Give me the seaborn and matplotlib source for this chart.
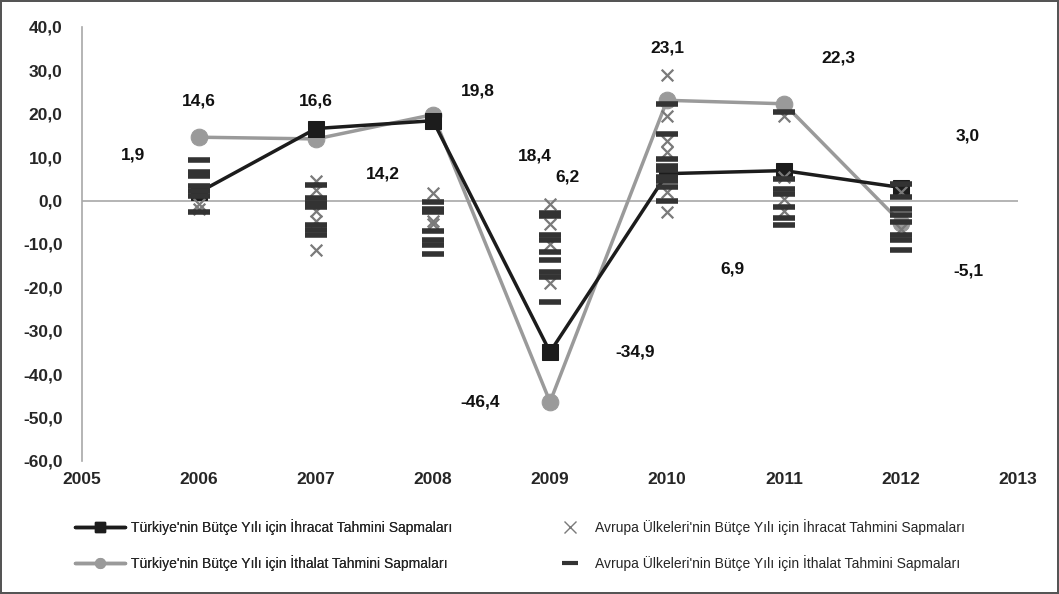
import pandas as pd
import matplotlib
matplotlib.use('Agg')
import matplotlib.pyplot as plt
import seaborn as sns
from matplotlib.lines import Line2D

years = [2006, 2007, 2008, 2009, 2010, 2011, 2012]
tr_export = [1.9, 16.6, 18.4, -34.9, 6.2, 6.9, 3.0]
tr_import = [14.6, 14.2, 19.8, -46.4, 23.1, 22.3, -5.1]

# European countries
eu_export_years = [2006, 2006, 2007, 2007, 2007, 2007, 2007, 2008, 2008, 2008,
                   2009, 2009, 2009, 2009, 2010, 2010, 2010, 2010, 2010, 2010,
                   2011, 2011, 2011, 2011, 2012, 2012]
eu_export = [-0.8, -2.0, 4.6, 2.5, -2.5, -4.6, -11.3, 1.7, -4.6, -5.5,
             -0.9, -5.4, -9.9, -19.1, 29.0, 19.5, 13.8, 11.1, 1.9, -2.7,
             19.5, 5.5, 0.4, -2.3, 1.9, -6.5]

eu_import_years = [2006] * 7 + [2007] * 7 + [2008] * 7 + [2009] * 9 + [2010] * 9 + [2011] * 7 + [2012] * 8
eu_import = [9.4, 6.5, 5.7, 3.4, 2.3, 1.1, -2.7,
             3.6, 0.5, -0.5, -1.5, -5.7, -6.7, -8.0,
             -0.4, -1.9, -2.7, -6.9, -9.2, -10.3, -12.2,
             -2.8, -3.6, -8.0, -9.2, -11.9, -13.8, -16.5, -17.6, -23.4,
             22.2, 15.3, 9.6, 8.0, 7.0, 5.5, 4.5, 3.1, 0.0,
             20.3, 5.0, 2.7, 1.5, -1.5, -4.1, -5.7,
             3.8, 0.8, -1.9, -3.4, -5.0, -8.0, -9.2, -11.3]

labels = ["Türkiye'nin Bütçe Yılı için İhracat Tahmini Sapmaları",
          "Türkiye'nin Bütçe Yılı için İthalat Tahmini Sapmaları",
          "Avrupa Ülkeleri'nin Bütçe Yılı için İhracat Tahmini Sapmaları",
          "Avrupa Ülkeleri'nin Bütçe Yılı için İthalat Tahmini Sapmaları"]

# label offsets in pixels (dx, dy) from each point
exp_offsets = [(-66, 37), (0, 28), (102, -35), (85, 0), (-100, -3), (-52, -98), (67, 52)]
imp_offsets = [(0, 36), (67, -35), (45, 24), (-70, 0), (0, 52), (54, 46), (67, -48)]

sns.set_style('white')
plt.rcParams['font.family'] = ['Liberation Sans', 'DejaVu Sans']

BLACK = '#1c1c1c'
GRAY = '#9a9a9a'
DASH = '#333333'
XGRAY = '#7a7a7a'

fig = plt.figure(figsize=(10.59, 5.94), dpi=100, edgecolor='#555555', linewidth=1.5)
ax = fig.add_axes([0.0774, 0.224, 0.884, 0.7306])

df = pd.DataFrame({'year': years, 'exp': tr_export, 'imp': tr_import})
sns.lineplot(data=df, x='year', y='exp', ax=ax, color=BLACK, lw=2.5,
             marker='s', markersize=11, markeredgecolor=BLACK, zorder=3)
sns.lineplot(data=df, x='year', y='imp', ax=ax, color=GRAY, lw=2.5,
             marker='o', markersize=12, markeredgecolor=GRAY, zorder=2)

sns.scatterplot(x=eu_export_years, y=eu_export, ax=ax, marker='x', s=70,
                color=XGRAY, linewidth=1.6, zorder=4)
sns.scatterplot(x=eu_import_years, y=eu_import, ax=ax, marker='_', s=230,
                color=DASH, linewidth=4, zorder=5)

for yr, v, (dx, dy) in zip(years, tr_export, exp_offsets):
    ax.annotate(f"{v:.1f}".replace('.', ','), (yr, v), xytext=(dx, dy),
                textcoords='offset pixels', ha='center', va='center',
                fontsize=12.5, fontweight='bold', color='#111111')
for yr, v, (dx, dy) in zip(years, tr_import, imp_offsets):
    ax.annotate(f"{v:.1f}".replace('.', ','), (yr, v), xytext=(dx, dy),
                textcoords='offset pixels', ha='center', va='center',
                fontsize=12.5, fontweight='bold', color='#111111')

ax.axhline(0, color='#a8a8a8', lw=1.2, zorder=1)
ax.set_xlim(2005, 2013)
ax.set_ylim(-60, 40)
ax.set_xticks(range(2005, 2014))
ax.set_xticklabels([str(y) for y in range(2005, 2014)], fontsize=12.5, fontweight='bold')
yt = list(range(-60, 41, 10))
ax.set_yticks(yt)
ax.set_yticklabels([f"{t:.1f}".replace('.', ',') for t in yt], fontsize=12.5, fontweight='bold')
ax.tick_params(axis='x', length=0, pad=8)
ax.tick_params(axis='y', length=0, pad=14)
ax.set_xlabel('')
ax.set_ylabel('')
for s in ['top', 'right', 'bottom']:
    ax.spines[s].set_visible(False)
ax.spines['left'].set_color('#a8a8a8')
ax.spines['left'].set_linewidth(1.2)

left_handles = [
    Line2D([], [], color=BLACK, lw=2.5, marker='s', markersize=7),
    Line2D([], [], color=GRAY, lw=2.5, marker='o', markersize=7),
]
right_handles = [
    Line2D([], [], color=XGRAY, lw=0, marker='x', markersize=8, markeredgewidth=1),
    Line2D([], [], color=DASH, lw=0, marker='_', markersize=12, markeredgewidth=3),
]
leg1 = fig.legend(left_handles, [labels[0], labels[1]], loc='upper left',
                  bbox_to_anchor=(75 / 1059, 1 - 519 / 594), frameon=False,
                  fontsize=10, handlelength=3.6, handletextpad=0.4,
                  labelspacing=1.45, borderpad=0, borderaxespad=0)
leg2 = fig.legend(right_handles, [labels[2], labels[3]], loc='upper left',
                  bbox_to_anchor=(560 / 1059, 1 - 519 / 594), frameon=False,
                  fontsize=10, handlelength=1.5, handletextpad=1.0,
                  labelspacing=1.45, borderpad=0, borderaxespad=0)
fig.add_artist(leg1)

fig.savefig('out.png', dpi=100, edgecolor=fig.get_edgecolor())
